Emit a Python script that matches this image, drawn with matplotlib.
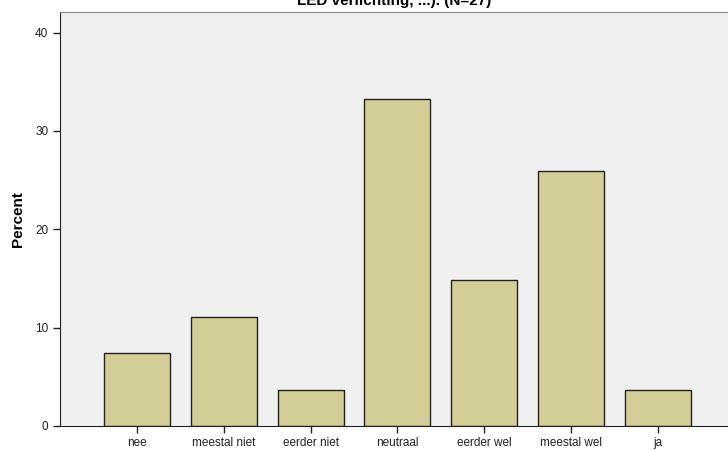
import matplotlib
matplotlib.use("Agg")
import matplotlib.pyplot as plt
import numpy as np

categories = ["nee", "meestal niet", "eerder niet", "neutraal", "eerder wel", "meestal wel", "ja"]
percent = [7.4, 11.1, 3.7, 33.3, 14.8, 25.9, 3.7]
title = "LED verlichting, ...). (N=27)"

plt.rcParams['font.family'] = ['Liberation Sans', 'DejaVu Sans']

fig = plt.figure(figsize=(7.28, 4.5), dpi=100)
ax = fig.add_axes([60/728, 24/450, 668/728, 414/450])
ax.set_facecolor("#f0f0f0")

x = np.arange(len(categories))
ax.bar(x, percent, width=0.76, color="#d3ce97", edgecolor="#222222", linewidth=1.0, zorder=2)

ax.set_xlim(-0.887, 6.81)
ax.set_ylim(0, 42.1)
ax.set_yticks([0, 10, 20, 30, 40])
ax.set_xticks(x)
ax.set_xticklabels(categories)
ax.tick_params(axis="both", labelsize=8.5, colors="#222222", length=5, width=1)
ax.tick_params(axis="x", pad=3)
ax.set_ylabel("Percent", fontsize=11, fontweight="bold", labelpad=7)

ax.spines["right"].set_visible(False)
ax.spines["top"].set_color("#888888")
ax.spines["left"].set_color("#222222")
ax.spines["bottom"].set_color("#222222")

# title is clipped at the top of the image in the reference
fig.text(394/728, 1 - 8/450, title, ha="center", va="bottom", fontsize=11, fontweight="bold")

fig.savefig("out.png", dpi=100)
